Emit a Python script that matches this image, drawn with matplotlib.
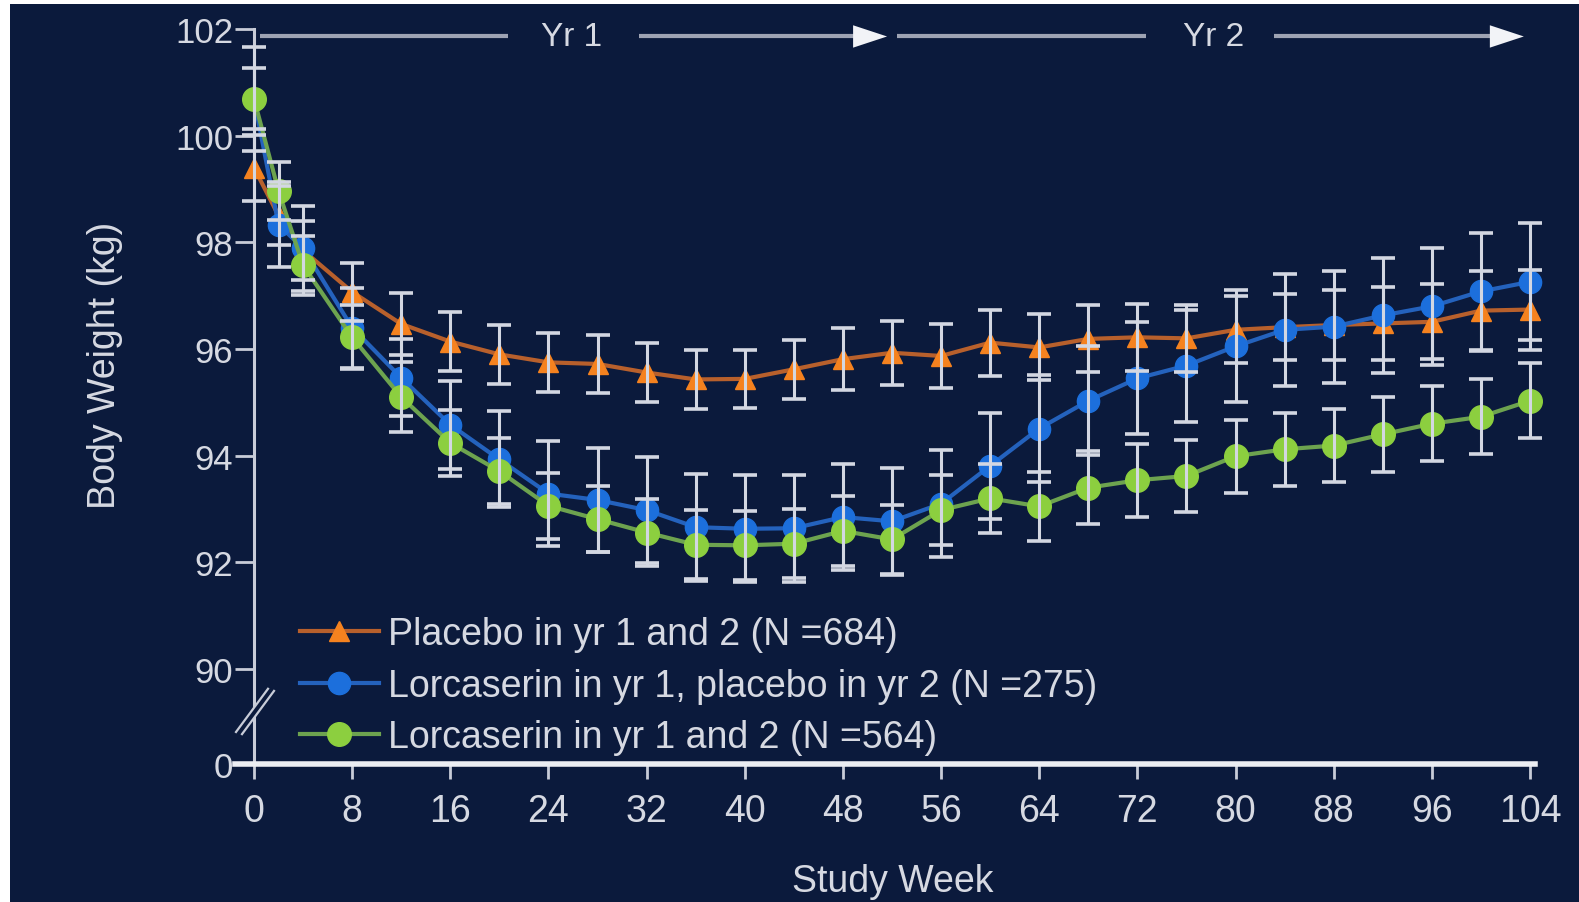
import matplotlib.pyplot as plt
from matplotlib.patches import Rectangle, Polygon

# study weeks with measurements
weeks = [0, 2, 4, 8, 12, 16, 20, 24, 28, 32, 36, 40, 44, 48, 52,
         56, 60, 64, 68, 72, 76, 80, 84, 88, 92, 96, 100, 104]

# mean body weight (kg) and error per arm
placebo = [99.40, 98.50, 97.85, 97.07, 96.47, 96.14, 95.90, 95.75, 95.72, 95.56,
           95.43, 95.44, 95.62, 95.81, 95.93, 95.87, 96.12, 96.03, 96.19, 96.22,
           96.20, 96.36, 96.41, 96.45, 96.48, 96.51, 96.72, 96.74]
placebo_err = [0.62, 0.55, 0.55, 0.55, 0.58, 0.55, 0.55, 0.55, 0.55, 0.55,
               0.55, 0.55, 0.55, 0.58, 0.60, 0.60, 0.62, 0.62, 0.63, 0.63,
               0.63, 0.63, 0.62, 0.65, 0.68, 0.70, 0.75, 0.75]

lorc_pbo = [100.69, 98.33, 97.89, 96.40, 95.46, 94.58, 93.93, 93.29, 93.17, 92.98,
            92.66, 92.63, 92.64, 92.85, 92.77, 93.10, 93.81, 94.51, 95.03, 95.45,
            95.69, 96.05, 96.36, 96.42, 96.63, 96.80, 97.08, 97.26]
lorc_pbo_err = [0.97, 0.80, 0.80, 0.75, 0.72, 0.82, 0.90, 0.98, 0.98, 1.00,
                1.00, 1.00, 1.00, 1.00, 1.00, 1.00, 1.00, 1.00, 1.02, 1.05,
                1.05, 1.05, 1.05, 1.05, 1.08, 1.10, 1.10, 1.10]

lorc = [100.69, 98.96, 97.57, 96.22, 95.10, 94.24, 93.71, 93.06, 92.81, 92.56,
        92.33, 92.32, 92.35, 92.59, 92.43, 92.98, 93.20, 93.05, 93.40, 93.54,
        93.62, 93.99, 94.12, 94.19, 94.40, 94.60, 94.73, 95.03]
lorc_err = [0.57, 0.55, 0.55, 0.60, 0.65, 0.62, 0.62, 0.62, 0.62, 0.62,
            0.65, 0.65, 0.65, 0.65, 0.65, 0.65, 0.65, 0.65, 0.68, 0.68,
            0.68, 0.68, 0.68, 0.68, 0.70, 0.70, 0.70, 0.70]

labels = ['Placebo in yr 1 and 2 (N =684)',
          'Lorcaserin in yr 1, placebo in yr 2 (N =275)',
          'Lorcaserin in yr 1 and 2 (N =564)']

x_ticks = list(range(0, 105, 8))
y_ticks = [90, 92, 94, 96, 98, 100, 102]
y_floor = 88.22   # where the broken axis starts; labelled 0

navy = '#0b1a3c'
txt = '#d6d9e2'
bar_col = '#d3d7e2'

plt.rcParams['font.family'] = ['Liberation Sans', 'DejaVu Sans']

fig = plt.figure(figsize=(15.79, 9.03), dpi=100, facecolor='white')
fig.patches.append(Rectangle((10 / 1579, 0), 1, 1 - 5 / 903, transform=fig.transFigure,
                             facecolor=navy, edgecolor='none', zorder=-10))

ax = fig.add_axes([235 / 1579, 1 - 765 / 903, 1300 / 1579, 735 / 903])
ax.set_facecolor(navy)
ax.set_xlim(-1.549, 104.41)
ax.set_ylim(y_floor, 102)

# lines + markers
series = [
    (placebo, placebo_err, '#b8602c', '#f5821f', '^', 14),
    (lorc_pbo, lorc_pbo_err, '#2462bd', '#1c6fdc', 'o', 16),
    (lorc, lorc_err, '#6da34f', '#8ccf3f', 'o', 17),
]
handles = []
for i, (vals, err, lc, mc, mk, ms) in enumerate(series):
    ln, = ax.plot(weeks, vals, color=lc, lw=3, marker=mk, ms=ms,
                  mfc=mc, mec=mc, zorder=3 + i, label=labels[i], clip_on=False)
    handles.append(ln)

# error bars sit on top of all markers
for vals, err, *_ in series:
    ax.errorbar(weeks, vals, yerr=err, fmt='none', ecolor=bar_col, elinewidth=2.2,
                capsize=8.5, capthick=2.6, zorder=7, clip_on=False)

# axes styling
for s in ['top', 'right']:
    ax.spines[s].set_visible(False)
ax.spines['left'].set_position(('data', 0))
ax.spines['left'].set_color('#c8ccd8')
ax.spines['left'].set_linewidth(2.2)
ax.spines['bottom'].set_color('#eceef3')
ax.spines['bottom'].set_linewidth(4)

ax.set_xticks(x_ticks, [str(t) for t in x_ticks])
ax.set_yticks([y_floor] + y_ticks, ['0'] + [str(t) for t in y_ticks])
ax.tick_params(axis='x', colors='#c8ccd8', length=11, width=2, pad=10,
               labelsize=27, labelcolor=txt)
ax.tick_params(axis='y', colors='#c8ccd8', length=14, width=2, pad=1,
               labelsize=25, labelcolor=txt)

# axis break on the y axis
brk_a = ([-1.467, 1.141], [88.82, 89.63])
brk_b = ([-0.978, 1.630], [88.78, 89.59])
ax.plot([-1.22, 1.38], [88.80, 89.61], color=navy, lw=4, zorder=8, clip_on=False)
ax.plot(*brk_a, color='#c8ccd8', lw=1.6, zorder=9, clip_on=False)
ax.plot(*brk_b, color='#c8ccd8', lw=1.6, zorder=9, clip_on=False)

# year arrows along the top
yr_y = 101.86
line_col = '#9ea3b3'
segments = [(0.5, 20.7, False), (31.4, 51.6, True), (52.4, 72.7, False), (83.1, 103.5, True)]
for x0, x1, head in segments:
    end = x1 - 2.6 if head else x1
    ax.plot([x0, end], [yr_y, yr_y], color=line_col, lw=3, zorder=2, clip_on=False,
            solid_capstyle='butt')
    if head:
        ax.add_patch(Polygon([(x1, yr_y), (x1 - 2.77, yr_y + 0.21), (x1 - 2.77, yr_y - 0.21)],
                             closed=True, facecolor='#f2f3f7', edgecolor='none',
                             zorder=2, clip_on=False))
ax.text(25.9, yr_y, 'Yr 1', color=txt, fontsize=24, ha='center', va='center')
ax.text(78.2, yr_y, 'Yr 2', color=txt, fontsize=24, ha='center', va='center')

fig.text(105 / 1579, 1 - 365 / 903, 'Body Weight (kg)', rotation=90, color=txt,
         fontsize=27, ha='center', va='center')
fig.text(893 / 1579, 1 - 882 / 903, 'Study Week', color=txt, fontsize=27,
         ha='center', va='center')

leg = ax.legend(handles=handles, loc='upper left',
                bbox_to_anchor=(300 / 1579, 1 - 617 / 903), bbox_transform=fig.transFigure,
                frameon=False, fontsize=27, borderpad=0, borderaxespad=0,
                handlelength=2.1, handletextpad=0.25, labelspacing=0.42)
for t in leg.get_texts():
    t.set_color(txt)

fig.savefig('out.png', dpi=100, facecolor=fig.get_facecolor())
